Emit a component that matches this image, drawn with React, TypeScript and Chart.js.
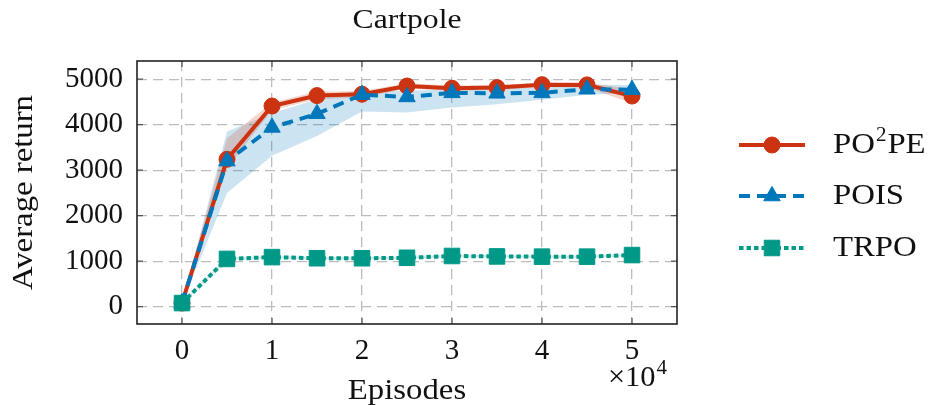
import { useEffect, useRef } from "react";
import { Chart, registerables } from "chart.js";
import { drawPoint } from "chart.js/helpers";

Chart.register(...registerables);

// Episodes, in units of 10^4
const EPISODES = [0, 0.5, 1, 1.5, 2, 2.5, 3, 3.5, 4, 4.5, 5];

const PO2PE_MEAN = [80, 3240, 4410, 4640, 4670, 4850, 4800, 4815, 4880, 4875, 4630];
const PO2PE_LOW = [70, 3050, 4320, 4560, 4600, 4790, 4745, 4760, 4830, 4820, 4470];
const PO2PE_HIGH = [90, 3700, 4490, 4730, 4740, 4910, 4860, 4870, 4930, 4930, 4780];

const POIS_MEAN = [80, 3200, 3940, 4240, 4660, 4610, 4700, 4690, 4700, 4780, 4770];
const POIS_LOW = [70, 2500, 3320, 3750, 4290, 4270, 4380, 4450, 4550, 4660, 4690];
const POIS_HIGH = [90, 3850, 4250, 4560, 4740, 4740, 4790, 4800, 4810, 4880, 4870];

const TRPO_MEAN = [80, 1050, 1090, 1065, 1065, 1075, 1115, 1105, 1100, 1100, 1135];
const TRPO_LOW = [65, 1020, 1065, 1040, 1040, 1050, 1090, 1080, 1075, 1075, 1110];
const TRPO_HIGH = [95, 1080, 1115, 1090, 1090, 1100, 1140, 1130, 1125, 1125, 1160];

const X_TICKS = [0, 1, 2, 3, 4, 5];
const Y_TICKS = [0, 1000, 2000, 3000, 4000, 5000];

const TITLE = "Cartpole";
const X_TITLE = "Episodes";
const Y_TITLE = "Average return";

const RED = "#CC3311";
const BLUE = "#0077BB";
const TEAL = "#009988";
const SERIF = '"Liberation Serif", "Times New Roman", serif';
const FONT_SIZE = 29;
const STRETCH = 1.13;

const pts = (ys: number[]) => EPISODES.map((x, i) => ({ x, y: ys[i] }));

function drawText(
  ctx: CanvasRenderingContext2D,
  s: string,
  x: number,
  y: number,
  size: number,
  align: "left" | "center" | "right",
  sx = STRETCH
) {
  ctx.save();
  ctx.font = `${size}px ${SERIF}`;
  ctx.textBaseline = "middle";
  ctx.textAlign = "left";
  ctx.fillStyle = "#111";
  const w = ctx.measureText(s).width * sx;
  const left = align === "left" ? x : align === "center" ? x - w / 2 : x - w;
  ctx.translate(left, y);
  ctx.scale(sx, 1);
  ctx.fillText(s, 0, 0);
  ctx.restore();
  return w;
}

const LEGEND = [
  { name: ["PO", "2", "PE"], color: RED, dash: [] as number[], style: "circle", radius: 8 },
  { name: ["POIS"], color: BLUE, dash: [11, 7], style: "triangle", radius: 9.5 },
  { name: ["TRPO"], color: TEAL, dash: [4.5, 3], style: "rect", radius: 11 },
];

const decorations = {
  id: "decorations",
  beforeDatasetsDraw(chart: any) {
    const { ctx, chartArea: a, scales } = chart;
    ctx.save();
    ctx.strokeStyle = "#555";
    ctx.lineWidth = 1.2;
    const t = 6;
    ctx.beginPath();
    for (const v of X_TICKS) {
      const px = scales.x.getPixelForValue(v);
      ctx.moveTo(px, a.bottom);
      ctx.lineTo(px, a.bottom - t);
      ctx.moveTo(px, a.top);
      ctx.lineTo(px, a.top + t);
    }
    for (const v of Y_TICKS) {
      const py = scales.y.getPixelForValue(v);
      ctx.moveTo(a.left, py);
      ctx.lineTo(a.left + t, py);
      ctx.moveTo(a.right, py);
      ctx.lineTo(a.right - t, py);
    }
    ctx.stroke();
    ctx.restore();
  },
  afterDatasetsDraw(chart: any) {
    const { ctx, chartArea: a } = chart;
    ctx.save();
    ctx.strokeStyle = "#222";
    ctx.lineWidth = 1.6;
    ctx.strokeRect(a.left, a.top, a.right - a.left, a.bottom - a.top);
    ctx.restore();
  },
  afterDraw(chart: any) {
    const { ctx, chartArea: a } = chart;
    const cx = (a.left + a.right) / 2;
    const cy = (a.top + a.bottom) / 2;

    drawText(ctx, TITLE, cx, 21, FONT_SIZE - 1, "center");
    drawText(ctx, X_TITLE, cx, 391, FONT_SIZE, "center");

    // axis multiplier below the last tick
    ctx.save();
    const w4 = drawText(ctx, "4", 667, 369, 20, "right", 1.05);
    drawText(ctx, "×10", 667 - w4 - 1, 378, FONT_SIZE, "right", 1.05);
    ctx.restore();

    ctx.save();
    ctx.translate(24, cy);
    ctx.rotate(-Math.PI / 2);
    drawText(ctx, Y_TITLE, 0, 0, FONT_SIZE, "center");
    ctx.restore();

    // legend
    const x0 = 739;
    const x1 = 805;
    const rows = [145, 196, 248];
    LEGEND.forEach((item, i) => {
      const y = rows[i];
      ctx.save();
      ctx.strokeStyle = item.color;
      ctx.lineWidth = 4;
      ctx.setLineDash(item.dash);
      ctx.beginPath();
      ctx.moveTo(x0, y);
      ctx.lineTo(x1, y);
      ctx.stroke();
      ctx.setLineDash([]);
      ctx.fillStyle = item.color;
      ctx.strokeStyle = item.color;
      ctx.lineWidth = 1;
      drawPoint(ctx, { pointStyle: item.style as any, radius: item.radius, rotation: 0, borderWidth: 1 }, (x0 + x1) / 2, y);
      ctx.restore();

      let tx = 833;
      if (item.name.length === 3) {
        tx += drawText(ctx, item.name[0], tx, y, FONT_SIZE, "left");
        tx += drawText(ctx, item.name[1], tx + 1, y - 9, 20, "left", 1.05) + 2;
        drawText(ctx, item.name[2], tx, y, FONT_SIZE, "left");
      } else {
        drawText(ctx, item.name[0], tx, y, FONT_SIZE, "left");
      }
    });
  },
};

export default function App() {
  const ref = useRef<HTMLCanvasElement | null>(null);

  useEffect(() => {
    if (!ref.current) return;
    const band = (data: number[], color: string, fill: any) => ({
      data: pts(data),
      borderWidth: 0,
      borderColor: "rgba(0,0,0,0)",
      backgroundColor: color,
      pointRadius: 0,
      fill,
      tension: 0,
    });
    const chart = new Chart(ref.current, {
      type: "line",
      data: {
        datasets: [
          {
            label: "TRPO",
            data: pts(TRPO_MEAN),
            borderColor: TEAL,
            backgroundColor: TEAL,
            borderWidth: 4,
            borderDash: [4.5, 3],
            borderCapStyle: "butt",
            pointStyle: "rect",
            pointRadius: 11,
            pointBorderWidth: 1,
            fill: false,
            tension: 0,
          },
          {
            label: "POIS",
            data: pts(POIS_MEAN),
            borderColor: BLUE,
            backgroundColor: BLUE,
            borderWidth: 4,
            borderDash: [11, 7],
            borderCapStyle: "butt",
            pointStyle: "triangle",
            pointRadius: 9.5,
            pointBorderWidth: 1,
            fill: false,
            tension: 0,
          },
          {
            label: "PO²PE",
            data: pts(PO2PE_MEAN),
            borderColor: RED,
            backgroundColor: RED,
            borderWidth: 4,
            pointStyle: "circle",
            pointRadius: 8,
            pointBorderWidth: 1,
            fill: false,
            tension: 0,
          },
          band(PO2PE_HIGH, "rgba(204,51,17,0.2)", "+1"),
          band(PO2PE_LOW, "rgba(0,0,0,0)", false),
          band(POIS_HIGH, "rgba(0,119,187,0.2)", "+1"),
          band(POIS_LOW, "rgba(0,0,0,0)", false),
          band(TRPO_HIGH, "rgba(0,153,136,0.2)", "+1"),
          band(TRPO_LOW, "rgba(0,0,0,0)", false),
        ] as any,
      },
      options: {
        animation: false,
        responsive: false,
        events: [],
        layout: { padding: { left: 0, right: 265, top: 61, bottom: 0 } },
        plugins: {
          legend: { display: false },
          tooltip: { enabled: false },
          title: { display: false },
        },
        scales: {
          x: {
            type: "linear",
            min: -0.5,
            max: 5.5,
            afterBuildTicks: (s: any) => {
              s.ticks = X_TICKS.map((v) => ({ value: v }));
            },
            afterFit: (s: any) => {
              s.height = 81;
            },
            grid: { color: "#bdbdbd", lineWidth: 1.3, drawTicks: false },
            border: { display: false, dash: [10, 6] },
            ticks: {
              padding: 10,
              maxRotation: 0,
              autoSkip: false,
              color: "#111",
              font: { family: SERIF, size: FONT_SIZE },
              callback: (v: any) => String(v),
            },
          },
          y: {
            type: "linear",
            min: -380,
            max: 5400,
            afterBuildTicks: (s: any) => {
              s.ticks = Y_TICKS.map((v) => ({ value: v }));
            },
            afterFit: (s: any) => {
              s.width = 137;
            },
            grid: { color: "#bdbdbd", lineWidth: 1.3, drawTicks: false },
            border: { display: false, dash: [10, 6] },
            ticks: {
              padding: 14,
              autoSkip: false,
              color: "#111",
              font: { family: SERIF, size: FONT_SIZE },
              callback: (v: any) => String(v),
            },
          },
        },
      },
      plugins: [decorations],
    });
    return () => chart.destroy();
  }, []);

  return (
    <div style={{ position: "absolute", left: 0, top: 0, width: 942, height: 405, background: "#fff" }}>
      <canvas ref={ref} width={942} height={405} style={{ display: "block", width: 942, height: 405 }} />
    </div>
  );
}
